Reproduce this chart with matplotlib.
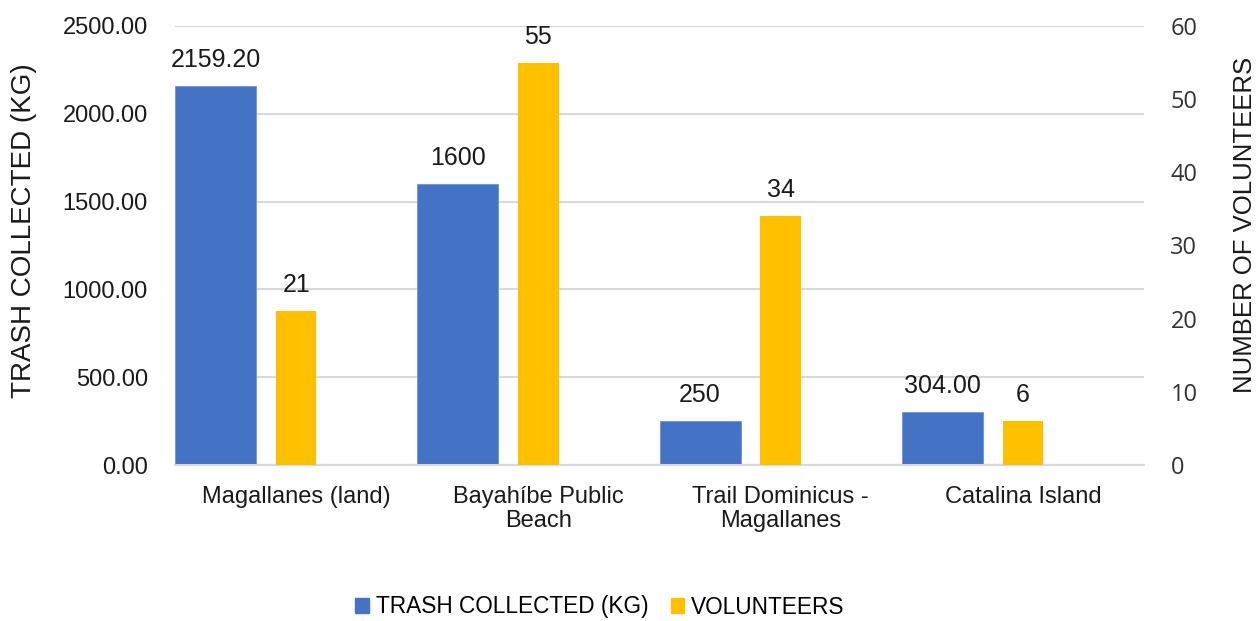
import matplotlib
matplotlib.use("Agg")
import matplotlib.pyplot as plt
from matplotlib.patches import Patch
import numpy as np

categories = ["Magallanes (land)", "Bayahíbe Public\nBeach", "Trail Dominicus -\nMagallanes", "Catalina Island"]
trash_kg = [2159.20, 1600, 250, 304.00]
trash_labels = ["2159.20", "1600", "250", "304.00"]
volunteers = [21, 55, 34, 6]
volunteer_labels = ["21", "55", "34", "6"]
left_ticks = [0, 500, 1000, 1500, 2000, 2500]
right_ticks = [0, 10, 20, 30, 40, 50, 60]

BLUE = "#4472C4"
YELLOW = "#FFC000"
GRID = "#D9D9D9"
TXT = "#1a1a1a"

plt.rcParams['font.family'] = ['Liberation Sans', 'DejaVu Sans']

fig = plt.figure(figsize=(12.58, 6.21), dpi=100)
ax = fig.add_axes([175/1258, 1-465/621, (1144-175)/1258, (465-26)/621])
ax2 = ax.twinx()

x = np.arange(len(categories))
bw_blue = 0.335
bw_yel = 0.167
bars1 = ax.bar(x + bw_blue/2, trash_kg, width=bw_blue, color=BLUE, edgecolor="#6d93d6", linewidth=0.6, zorder=3)
bars2 = ax2.bar(x + 0.5, volunteers, width=bw_yel, color=YELLOW, zorder=3)

ax.set_xlim(0, len(categories))
ax.set_ylim(0, 2500)
ax2.set_ylim(0, 60)

ax.set_yticks(left_ticks)
ax.set_yticklabels([f"{v:.2f}" for v in left_ticks], fontsize=17, color=TXT)
ax2.set_yticks(right_ticks)
ax2.set_yticklabels([str(v) for v in right_ticks], fontsize=17, color="#333333", family=['Open Sans', 'DejaVu Sans'])
ax.set_xticks(x + 0.5)
ax.set_xticklabels(categories, fontsize=17, color=TXT, linespacing=1.1)

ax.tick_params(axis='y', length=0, pad=19.5)
ax2.tick_params(axis='y', length=0, pad=19)
ax.tick_params(axis='x', length=0, pad=15)

ax.yaxis.grid(True, color=GRID, linewidth=1.5, zorder=0)
ax.set_axisbelow(True)
for a in (ax, ax2):
    for s in ["top", "right", "left"]:
        a.spines[s].set_visible(False)
    a.spines["bottom"].set_color(GRID)
    a.spines["bottom"].set_linewidth(1.5)

ax.set_ylabel("TRASH COLLECTED (KG)", fontsize=20, color=TXT)
ax.yaxis.set_label_coords(-0.1424, 0.533)
ax2.set_ylabel("NUMBER OF VOLUNTEERS", fontsize=18.5, color=TXT)
ax2.yaxis.set_label_coords(1.0918, 0.547)

for b, lab in zip(bars1, trash_labels):
    ax.annotate(lab, (b.get_x() + b.get_width()/2, b.get_height()), xytext=(0, 10),
                textcoords="offset points", ha="center", va="bottom", fontsize=18, color=TXT)
for b, lab in zip(bars2, volunteer_labels):
    ax2.annotate(lab, (b.get_x() + b.get_width()/2, b.get_height()), xytext=(0, 10),
                 textcoords="offset points", ha="center", va="bottom", fontsize=18, color=TXT)

handles = [Patch(color=BLUE), Patch(color=YELLOW)]
fig.legend(handles, ["TRASH COLLECTED (KG)", "VOLUNTEERS"], loc="center",
           bbox_to_anchor=(600/1258, 1-607/621), ncol=2, frameon=False, fontsize=16.3,
           handlelength=0.6, handleheight=0.6, handletextpad=0.3, columnspacing=1.0)

fig.savefig("out.png", dpi=100)
